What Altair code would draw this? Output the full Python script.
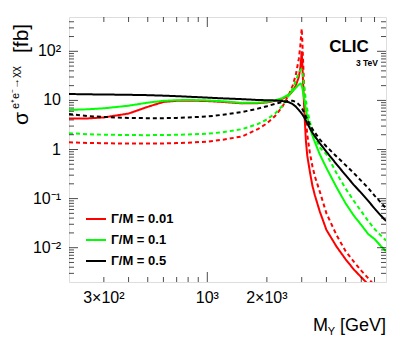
import altair as alt
import pandas as pd

# ---- data ----
mass = [200, 250, 300, 400, 500, 600, 700, 800, 1000, 1200, 1500, 1800, 2000, 2200,
        2400, 2600, 2700, 2800, 2900, 2950, 2980, 3000, 3020, 3050, 3100, 3150, 3200,
        3300, 3400, 3500, 3700, 4000, 4500, 5000, 5500, 6000, 6500, 7000, 7500, 8000]

red_solid = [4.3, 4.3, 4.5, 5.4, 7.4, 9.3, 9.8, 9.9, 9.7, 9.3, 8.7, 8.8, 9.1, 9.8,
             10.8, 13, 15.5, 20, 30, 45, 70, 100, 60, 22, 5, 1.5, 0.75,
             0.35, 0.18, 0.115, 0.055, 0.023, 0.0105, 0.0058, 0.0036, 0.0025, 0.0018, 0.0013, 0.001, 0.0008]
red_dashed = [1.40, 1.36, 1.34, 1.32, 1.32, 1.33, 1.35, 1.37, 1.45, 1.58, 1.85, 2.6, 3.4, 4.8,
              7.5, 14, 20, 33, 70, 125, 210, 290, 170, 60, 12, 4, 2.0,
              0.85, 0.45, 0.28, 0.14, 0.05, 0.018, 0.0085, 0.0052, 0.0034, 0.0024, 0.0017, 0.0013, 0.001]
green_solid = [6.4, 6.6, 6.9, 7.8, 9.0, 9.8, 10.1, 10.2, 10.0, 9.6, 8.9, 9.0, 9.3, 10.0,
               11.2, 13.5, 15.5, 18, 21, 22, 21.5, 20, 18, 14.5, 10, 6.5, 4.6,
               2.8, 1.9, 1.4, 0.8, 0.42, 0.17, 0.08, 0.045, 0.029, 0.019, 0.015, 0.011, 0.0085]
green_dashed = [2.14, 2.05, 2.0, 1.97, 1.96, 1.97, 1.99, 2.02, 2.1, 2.25, 2.6, 3.3, 4.1, 5.4,
                7.8, 13, 17.5, 25, 36, 41, 43, 42, 38, 29, 17, 10, 6.5,
                3.6, 2.4, 1.8, 1.1, 0.8, 0.33, 0.16, 0.09, 0.055, 0.035, 0.024, 0.018, 0.014]
black_solid = [13.5, 13.3, 13.2, 13.0, 12.8, 12.5, 12.2, 11.9, 11.4, 11.0, 10.6, 10.2, 10.1, 10.0,
               9.7, 9.1, 8.4, 7.5, 6.4, 5.9, 5.6, 5.4, 5.2, 4.9, 4.4, 3.9, 3.4,
               2.7, 2.2, 1.85, 1.35, 0.9, 0.5, 0.3, 0.19, 0.13, 0.09, 0.063, 0.046, 0.035]
black_dashed = [5.3, 4.8, 4.6, 4.4, 4.35, 4.35, 4.4, 4.5, 4.7, 5.1, 5.8, 6.8, 7.6, 8.5,
                9.3, 9.8, 9.8, 9.3, 8.3, 7.7, 7.3, 7.0, 6.7, 6.2, 5.4, 4.7, 4.1,
                3.2, 2.6, 2.2, 1.6, 1.15, 0.72, 0.48, 0.33, 0.23, 0.165, 0.115, 0.085, 0.063]

names = ["Γ/M = 0.01", "Γ/M = 0.1", "Γ/M = 0.5"]
colors = ["#ff0000", "#00ff00", "#000000"]

# tick labels
x_label_values = [300, 1000, 2000]
x_label_text = ["3×10²", "10³", "2×10³"]
y_label_values = [0.01, 0.1, 1, 10, 100]
y_label_text = ["10⁻²", "10⁻¹", "1", "10", "10²"]

# tick positions (ROOT style: every integer multiple, decades longer)
x_major = [1000]
x_minor = [300, 400, 500, 600, 700, 800, 900, 2000, 3000, 4000, 5000, 6000, 7000]
y_major = [0.01, 0.1, 1, 10, 100]
y_minor = [k * d for d in [0.001, 0.01, 0.1, 1, 10, 100] for k in range(2, 10)
           if 0.002 < k * d < 500]

series = [
    (names[0], "solid", red_solid), (names[0], "dashed", red_dashed),
    (names[1], "solid", green_solid), (names[1], "dashed", green_dashed),
    (names[2], "solid", black_solid), (names[2], "dashed", black_dashed),
]
rows = []
for name, style, vals in series:
    for m, v in zip(mass, vals):
        rows.append({"M": m, "sigma": v, "width": name, "style": style})
df = pd.DataFrame(rows)

xt = pd.DataFrame({"M": x_major + x_minor,
                   "len": [20] * len(x_major) + [10] * len(x_minor)})
yt = pd.DataFrame({"sigma": y_major + y_minor,
                   "len": [18] * len(y_major) + [10] * len(y_minor)})
xl = pd.DataFrame({"M": x_label_values, "t": x_label_text})
yl = pd.DataFrame({"sigma": y_label_values, "t": y_label_text})

FONT = "Liberation Sans"
W, H = 317, 265
xs = alt.Scale(type="log", domain=[200, 8000], nice=False)
ys = alt.Scale(type="log", domain=[0.002, 500], nice=False)

lines = alt.Chart(df).mark_line(clip=True, strokeWidth=2).encode(
    x=alt.X("M:Q", scale=xs, axis=None),
    y=alt.Y("sigma:Q", scale=ys, axis=None),
    color=alt.Color("width:N", scale=alt.Scale(domain=names, range=colors),
                    legend=alt.Legend(orient="none", legendX=16, legendY=191, title=None,
                                      symbolType="stroke", symbolSize=400, symbolStrokeWidth=2,
                                      labelFont=FONT, labelFontWeight="bold", labelFontSize=13,
                                      labelColor="black", rowPadding=3, labelOffset=4, padding=0)),
    strokeDash=alt.StrokeDash("style:N", scale=alt.Scale(domain=["solid", "dashed"],
                                                         range=[[1, 0], [4, 3]]), legend=None),
)


def xticks(edge):
    return alt.Chart(xt).mark_tick(clip=True, orient="vertical", thickness=1, color="black").encode(
        x=alt.X("M:Q", scale=xs, axis=None),
        y=alt.value(edge),
        size=alt.Size("len:Q", scale=None, legend=None),
    )


def yticks(edge):
    return alt.Chart(yt).mark_tick(clip=True, orient="horizontal", thickness=1, color="black").encode(
        y=alt.Y("sigma:Q", scale=ys, axis=None),
        x=alt.value(edge),
        size=alt.Size("len:Q", scale=None, legend=None),
    )


x_labels = alt.Chart(xl).mark_text(font=FONT, fontSize=16, color="black",
                                   align="center", baseline="top").encode(
    x=alt.X("M:Q", scale=xs, axis=None), y=alt.value(H + 8), text="t:N")
y_labels = alt.Chart(yl).mark_text(font=FONT, fontSize=16, color="black",
                                   align="right", baseline="middle").encode(
    y=alt.Y("sigma:Q", scale=ys, axis=None), x=alt.value(-8), text="t:N")


def label(text, x, y, size, weight="normal", align="left", angle=0, baseline="alphabetic"):
    return alt.Chart(pd.DataFrame({"t": [text]})).mark_text(
        font=FONT, fontSize=size, fontWeight=weight, align=align, angle=angle,
        baseline=baseline, color="black"
    ).encode(text="t:N", x=alt.value(x), y=alt.value(y))


texts = [
    label("CLIC", 280, 35, 17, "bold", "center"),
    label("3 TeV", 309, 49, 8.5, "bold", "right"),
    label("[GeV]", 317, 314, 18, align="right"),
    label("Y", 266, 318, 11, align="right"),
    label("M", 259, 314, 18, align="right"),
    label("σ", -41, 108, 21, angle=270),
    label("e⁺e⁻→χχ", -50, 92, 11, angle=270),
    label("[fb]", -41, 36, 21, angle=270),
]

chart = alt.layer(
    lines, xticks(H), xticks(0), yticks(0), yticks(W), x_labels, y_labels, *texts
).properties(
    width=W, height=H,
    autosize=alt.AutoSizeParams(type="none"),
    padding={"left": 61, "top": 9, "right": 13, "bottom": 54},
).configure_view(stroke="black", strokeWidth=1.5).configure(background="white")

chart.save("out.html", embed_options={"renderer": "svg", "actions": False})
